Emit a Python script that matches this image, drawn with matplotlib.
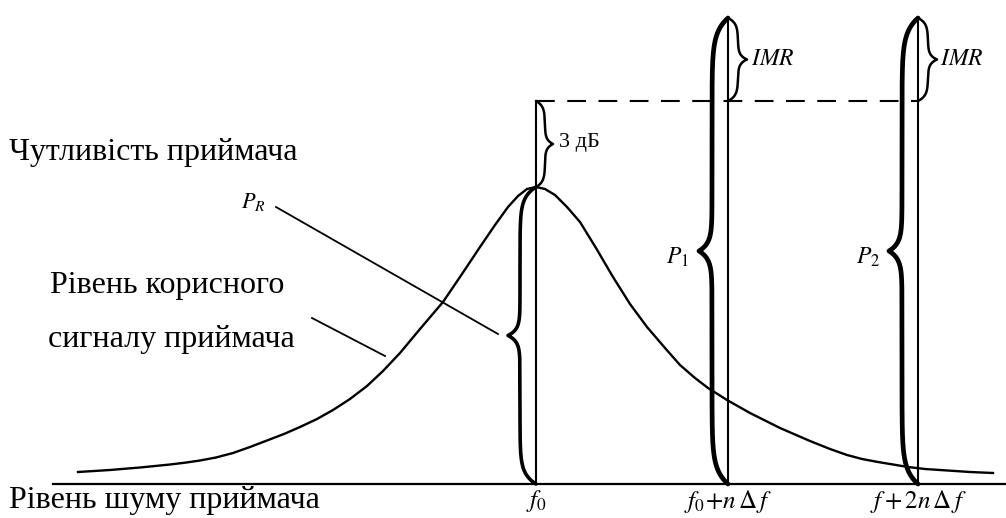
import numpy as np
import matplotlib
matplotlib.use("Agg")
import matplotlib.pyplot as plt

# frequencies (horizontal positions) of the three marks
f0 = 536
f1 = 728
f2 = 918

# levels above the noise floor
peak_level = 297      # receiver sensitivity (top of the resonance curve)
ref_level = 383       # sensitivity + 3 dB (dashed line)
top_level = 466       # P1 / P2 level

# resonance curve
curve_x = [78, 110, 140, 170, 185, 200, 216, 233, 250, 267, 284, 300, 317,
           333, 350, 367, 383, 400, 420, 443, 462, 480, 495, 508, 518, 527,
           536, 545, 555, 567, 580, 596, 613, 630, 647, 665, 680, 695, 708,
           727, 750, 780, 810, 830, 847, 862, 878, 893, 908, 925, 940, 970,
           993]
curve_y = [12, 14, 16.5, 19.5, 21.3, 23.5, 26.5, 31, 37, 43.5, 50, 57, 65,
           74, 85, 98, 113, 131, 155, 182, 210, 237, 259, 277, 288, 295,
           297, 295, 289, 277, 262, 236, 207, 180, 157, 136, 119, 106, 96,
           84, 71, 56, 43, 35, 29, 25, 22, 19.5, 17, 15, 14, 12,
           11]

freq_labels = [r"$f_0$", r"$f_0\!+\!n\,\Delta\,f$", r"$f+2n\,\Delta\,f$"]

plt.rcParams["mathtext.fontset"] = "stix"
serif = ["Liberation Serif", "DejaVu Serif"]


def brace(ax, x, lo, hi, side, depth, tip, ra, rb, lw):
    # curly brace along a vertical line, cusp in the middle
    half = (hi - lo) / 2.0
    d = np.linspace(0, half, 300)
    off = depth * (1 - np.exp(-d / ra)) + (tip - depth) * np.exp(-(half - d) / rb)
    xs = np.concatenate([x + side * off, (x + side * off)[::-1]])
    ys = np.concatenate([lo + d, (hi - d)[::-1]])
    ax.plot(xs, ys, color="k", lw=lw, solid_capstyle="round")


fig = plt.figure(figsize=(10.06, 5.18), dpi=100)
ax = fig.add_axes([0, 0, 1, 1])
ax.set_xlim(0, 1006)
ax.set_ylim(-34, 484)
ax.axis("off")

# noise floor
ax.plot([53, 1006], [0, 0], color="k", lw=1.6)

# resonance curve
ax.plot(curve_x, curve_y, color="k", lw=1.7, solid_joinstyle="round")

# vertical frequency lines
ax.plot([f0, f0], [0, ref_level], color="k", lw=1.5)
ax.plot([f1, f1], [0, top_level], color="k", lw=1.5)
ax.plot([f2, f2], [0, top_level], color="k", lw=1.5)

# dashed reference level
ax.plot([f0, f2], [ref_level, ref_level], color="k", lw=1.5,
        linestyle=(0, (9, 6)))

# braces
brace(ax, f0, 0, peak_level, -1, 16, 28, 10, 6, 2.6)
brace(ax, f0, peak_level, ref_level, 1, 9, 17, 5, 4, 1.8)
brace(ax, f1, 0, top_level, -1, 16, 29, 14, 8, 3.4)
brace(ax, f2, 0, top_level, -1, 16, 29, 14, 8, 3.4)
brace(ax, f1, ref_level, top_level, 1, 10, 19, 5, 4, 1.8)
brace(ax, f2, ref_level, top_level, 1, 10, 19, 5, 4, 1.8)

# leader lines
ax.plot([276, 498], [277, 150], color="k", lw=1.3)
ax.plot([312, 385], [166, 128], color="k", lw=1.3)

# labels
ax.text(9, 324, "Чутливість приймача", family=serif, fontsize=23,
        va="baseline", ha="left")
ax.text(50, 191, "Рівень корисного", family=serif, fontsize=23,
        va="baseline", ha="left")
ax.text(48, 137, "сигналу приймача", family=serif, fontsize=23,
        va="baseline", ha="left")
ax.text(9, -24, "Рівень шуму приймача", family=serif, fontsize=23,
        va="baseline", ha="left")

for fx, lab in zip([f0, f1, f2], freq_labels):
    ax.text(fx, -4, lab, fontsize=18, ha="center", va="top")

ax.text(253, 282, r"$P_R$", fontsize=16, ha="center", va="center")
ax.text(677, 227, r"$P_1$", fontsize=17, ha="center", va="center")
ax.text(868, 227, r"$P_2$", fontsize=17, ha="center", va="center")
ax.text(559, 341, "3 дБ", family=serif, fontsize=16, ha="left", va="center")
ax.text(751, 426, r"$IMR$", fontsize=17, ha="left", va="center")
ax.text(940, 426, r"$IMR$", fontsize=17, ha="left", va="center")

fig.savefig("out.png", dpi=100)
